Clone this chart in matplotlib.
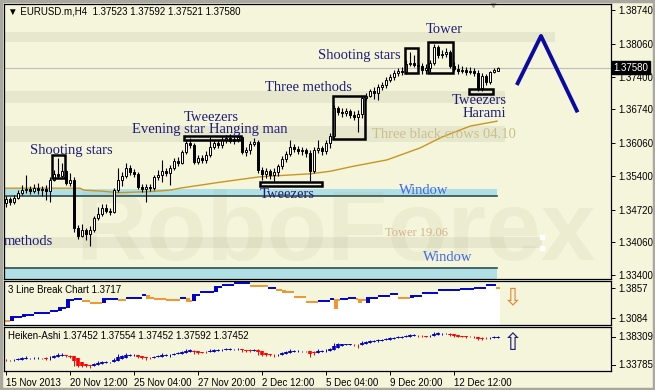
"""EURUSD.m H4 with candlestick pattern notes, plus 3 Line Break and Heiken-Ashi panels."""
import matplotlib
matplotlib.use("Agg")
import matplotlib.pyplot as plt
from matplotlib.patches import Rectangle
from matplotlib.transforms import blended_transform_factory

# H4 candles (15 Nov - 13 Dec 2013)
opens = [
    1.3485, 1.3493, 1.3487, 1.3495, 1.3505, 1.3511, 1.3513, 1.3509, 1.3515, 1.3511,
    1.3513, 1.3509, 1.3532, 1.3544, 1.3540, 1.3550, 1.3525, 1.3532, 1.3435, 1.3419,
    1.3431, 1.3423, 1.3431, 1.3455, 1.3463, 1.3475, 1.3469, 1.3467, 1.3511, 1.3532,
    1.3540, 1.3556, 1.3548, 1.3544, 1.3517, 1.3513, 1.3517, 1.3515, 1.3538, 1.3542,
    1.3550, 1.3546, 1.3556, 1.3570, 1.3566, 1.3588, 1.3606, 1.3602, 1.3568, 1.3576,
    1.3572, 1.3582, 1.3598, 1.3606, 1.3602, 1.3612, 1.3616, 1.3610, 1.3614, 1.3618,
    1.3588, 1.3592, 1.3604, 1.3608, 1.3552, 1.3544, 1.3550, 1.3542, 1.3548, 1.3560,
    1.3574, 1.3584, 1.3598, 1.3594, 1.3590, 1.3592, 1.3586, 1.3550, 1.3592, 1.3596,
    1.3590, 1.3606, 1.3620, 1.3677, 1.3668, 1.3666, 1.3671, 1.3662, 1.3658, 1.3664,
    1.3697, 1.3701, 1.3711, 1.3707, 1.3719, 1.3723, 1.3733, 1.3739, 1.3747, 1.3751,
    1.3749, 1.3765, 1.3767, 1.3763, 1.3761, 1.3753, 1.3757, 1.3767, 1.3800, 1.3783,
    1.3785, 1.3789, 1.3761, 1.3755, 1.3751, 1.3753, 1.3749, 1.3751, 1.3747, 1.3717,
    1.3741, 1.3729, 1.3749, 1.3752,
]
highs = [
    1.3499, 1.3497, 1.3501, 1.3511, 1.3521, 1.3542, 1.3519, 1.3523, 1.3525, 1.3519,
    1.3521, 1.3538, 1.3552, 1.3576, 1.3566, 1.3552, 1.3546, 1.3538, 1.3441, 1.3443,
    1.3435, 1.3439, 1.3459, 1.3477, 1.3483, 1.3483, 1.3475, 1.3515, 1.3556, 1.3548,
    1.3566, 1.3562, 1.3554, 1.3548, 1.3523, 1.3523, 1.3523, 1.3542, 1.3552, 1.3572,
    1.3556, 1.3562, 1.3576, 1.3578, 1.3592, 1.3612, 1.3616, 1.3606, 1.3582, 1.3582,
    1.3590, 1.3618, 1.3612, 1.3612, 1.3618, 1.3622, 1.3624, 1.3620, 1.3624, 1.3620,
    1.3598, 1.3610, 1.3616, 1.3612, 1.3558, 1.3556, 1.3554, 1.3556, 1.3564, 1.3580,
    1.3590, 1.3612, 1.3604, 1.3600, 1.3598, 1.3596, 1.3592, 1.3598, 1.3612, 1.3600,
    1.3612, 1.3626, 1.3683, 1.3681, 1.3677, 1.3677, 1.3675, 1.3671, 1.3673, 1.3701,
    1.3707, 1.3715, 1.3719, 1.3725, 1.3729, 1.3739, 1.3745, 1.3753, 1.3757, 1.3759,
    1.3773, 1.3789, 1.3783, 1.3769, 1.3767, 1.3765, 1.3773, 1.3806, 1.3804, 1.3793,
    1.3798, 1.3793, 1.3769, 1.3765, 1.3761, 1.3759, 1.3759, 1.3757, 1.3753, 1.3747,
    1.3745, 1.3751, 1.3757, 1.3759,
]
lows = [
    1.3477, 1.3481, 1.3483, 1.3493, 1.3501, 1.3505, 1.3503, 1.3505, 1.3503, 1.3499,
    1.3491, 1.3487, 1.3530, 1.3536, 1.3538, 1.3521, 1.3519, 1.3427, 1.3413, 1.3417,
    1.3411, 1.3399, 1.3427, 1.3451, 1.3459, 1.3465, 1.3461, 1.3465, 1.3507, 1.3519,
    1.3536, 1.3542, 1.3538, 1.3513, 1.3507, 1.3487, 1.3509, 1.3511, 1.3532, 1.3527,
    1.3540, 1.3521, 1.3552, 1.3560, 1.3564, 1.3584, 1.3596, 1.3564, 1.3564, 1.3566,
    1.3566, 1.3578, 1.3594, 1.3596, 1.3596, 1.3606, 1.3606, 1.3604, 1.3608, 1.3584,
    1.3580, 1.3584, 1.3600, 1.3546, 1.3532, 1.3536, 1.3534, 1.3530, 1.3540, 1.3554,
    1.3568, 1.3580, 1.3588, 1.3584, 1.3582, 1.3578, 1.3530, 1.3546, 1.3586, 1.3582,
    1.3584, 1.3596, 1.3614, 1.3662, 1.3658, 1.3660, 1.3656, 1.3652, 1.3628, 1.3656,
    1.3693, 1.3699, 1.3695, 1.3693, 1.3713, 1.3717, 1.3729, 1.3733, 1.3741, 1.3743,
    1.3745, 1.3761, 1.3759, 1.3753, 1.3745, 1.3745, 1.3749, 1.3763, 1.3777, 1.3777,
    1.3779, 1.3757, 1.3751, 1.3745, 1.3747, 1.3743, 1.3745, 1.3741, 1.3711, 1.3711,
    1.3723, 1.3725, 1.3747, 1.3752,
]
closes = [
    1.3493, 1.3487, 1.3495, 1.3505, 1.3511, 1.3513, 1.3509, 1.3515, 1.3511, 1.3513,
    1.3509, 1.3532, 1.3544, 1.3540, 1.3550, 1.3525, 1.3532, 1.3435, 1.3419, 1.3431,
    1.3423, 1.3431, 1.3455, 1.3463, 1.3475, 1.3469, 1.3467, 1.3511, 1.3532, 1.3540,
    1.3556, 1.3548, 1.3544, 1.3517, 1.3513, 1.3517, 1.3515, 1.3538, 1.3542, 1.3550,
    1.3546, 1.3556, 1.3570, 1.3566, 1.3588, 1.3606, 1.3602, 1.3568, 1.3576, 1.3572,
    1.3582, 1.3598, 1.3606, 1.3602, 1.3612, 1.3616, 1.3610, 1.3614, 1.3618, 1.3588,
    1.3592, 1.3604, 1.3608, 1.3552, 1.3544, 1.3550, 1.3542, 1.3548, 1.3560, 1.3574,
    1.3584, 1.3598, 1.3594, 1.3590, 1.3592, 1.3586, 1.3550, 1.3592, 1.3596, 1.3590,
    1.3606, 1.3620, 1.3677, 1.3668, 1.3666, 1.3671, 1.3662, 1.3658, 1.3664, 1.3697,
    1.3701, 1.3711, 1.3707, 1.3719, 1.3723, 1.3733, 1.3739, 1.3747, 1.3751, 1.3749,
    1.3765, 1.3767, 1.3763, 1.3761, 1.3753, 1.3757, 1.3767, 1.3800, 1.3783, 1.3785,
    1.3789, 1.3761, 1.3755, 1.3751, 1.3753, 1.3749, 1.3751, 1.3747, 1.3717, 1.3741,
    1.3729, 1.3749, 1.3753, 1.3758,
]
last_price = 1.37580

# moving average (bar, value)
ma_bars = [-0.5, 18.5, 19.5, 24, 28, 36, 41, 43.5, 53.5, 63.5, 76, 81, 86.75, 95.25, 103.5, 109, 116, 122.75]
ma_vals = [1.3515, 1.3515, 1.3511, 1.3509, 1.3506, 1.3508, 1.3511, 1.3515, 1.3527, 1.3538,
           1.3544, 1.3549, 1.3559, 1.3572, 1.3596, 1.3618, 1.3640, 1.3650]

# forecast zigzag
forecast_bars = [127.7, 133.75, 142.9]
forecast_vals = [1.37229, 1.38217, 1.36679]

# pattern boxes: bar from, bar to, low, high
box_x0 = [11.5, 44.5, 63.5, 81.75, 99.75, 105.5, 115.75]
box_x1 = [14.75, 58.75, 79.0, 89.75, 103.0, 111.75, 121.75]
box_lo = [1.3536, 1.3612, 1.3519, 1.3614, 1.3747, 1.3747, 1.3705]
box_hi = [1.3582, 1.3620, 1.3527, 1.3701, 1.3797, 1.3810, 1.3715]

# grey zones: low, high, bar where the zone ends
zone_lo = [1.38096, 1.36867, 1.36081, 1.33945]
zone_hi = [1.38297, 1.37108, 1.36403, 1.34167]
zone_end = [137.2, 124.7, 124.7, 134.0]
window_lo = [1.34993, 1.3300]
window_hi = [1.35128, 1.33542]
window_edge = [1.34993, 1.33542]

# pattern notes: text, bar, baseline price
notes = [
    ("Shooting stars", 6, 1.3584), ("Evening star", 31.5, 1.3626), ("Tweezers", 44.5, 1.3650),
    ("Hanging man", 50.75, 1.3626), ("Three methods", 64.75, 1.3711), ("Shooting stars", 78, 1.3775),
    ("Tower", 105, 1.3828), ("Tweezers", 111.5, 1.3685), ("Harami", 114.25, 1.3659),
    ("Tweezers", 63.5, 1.3495), ("methods", -0.5, 1.3400),
]

price_ticks = [1.33400, 1.34060, 1.34720, 1.35400, 1.36060, 1.36740, 1.37400, 1.38060, 1.38740]

# 3 Line Break: segment start bar, level, block edge, colour
lb_start = [-0.5, 1, 4, 7, 11, 13, 15, 17, 19, 21, 24, 28, 30, 34, 35, 37, 40, 43.5, 45, 46.5,
            48.5, 52, 54, 57, 61, 65.5, 67.5, 69, 72, 75, 78, 81, 82, 83.5, 85.5, 87.5, 88, 90,
            93, 96, 98, 101, 104, 108, 113.5, 117, 120, 122.5]
lb_level = [1.3007, 1.3110, 1.3161, 1.3213, 1.3264, 1.3342, 1.3548, 1.3574, 1.3522, 1.3470,
            1.3574, 1.3548, 1.3599, 1.3677, 1.3599, 1.3574, 1.3548, 1.3599, 1.3522, 1.3677,
            1.3754, 1.3883, 1.3934, 1.3986, 1.3909, 1.3857, 1.3805, 1.3754, 1.3625, 1.3496,
            1.3522, 1.3574, 1.3548, 1.3574, 1.3599, 1.3574, 1.3548, 1.3599, 1.3651, 1.3702,
            1.3599, 1.3651, 1.3728, 1.3805, 1.3831, 1.3857, 1.3934, 1.3857]
lb_edge = [1.3007, 1.3007, 1.3110, 1.3213, 1.3264, 1.3264, 1.3342, 1.3574, 1.3522, 1.3470,
           1.3470, 1.3548, 1.3599, 1.3677, 1.3677, 1.3574, 1.3548, 1.3599, 1.3599, 1.3522,
           1.3754, 1.3754, 1.3934, 1.3986, 1.3909, 1.3857, 1.3805, 1.3805, 1.3625, 1.3496,
           1.3522, 1.3574, 1.3316, 1.3574, 1.3599, 1.3574, 1.3470, 1.3470, 1.3651, 1.3702,
           1.3599, 1.3599, 1.3728, 1.3805, 1.3831, 1.3857, 1.3934, 1.3857]
lb_up = [0, 1, 1, 1, 1, 1, 1, 1, 0, 0, 1, 0, 1, 1, 0, 0, 0, 1, 0, 1,
         1, 1, 1, 1, 0, 1, 0, 0, 0, 0, 1, 1, 0, 1, 1, 0, 0, 1, 1, 1,
         0, 1, 1, 1, 1, 1, 1, 0]
lb_end = 123.5

date_ticks = [0, 16, 32, 48, 64, 80, 96, 112]
date_labels = ["15 Nov 2013", "20 Nov 12:00", "25 Nov 04:00", "27 Nov 20:00",
               "2 Dec 12:00", "5 Dec 04:00", "9 Dec 20:00", "12 Dec 12:00"]

BG = "#F5F5DC"
NAVY = "#1E1E78"
SANS = ["Liberation Sans", "DejaVu Sans"]
SERIF = "Liberation Serif"
W, H = 655, 390


def px_box(left, top, right, bottom):
    return [left / W, 1 - bottom / H, (right - left) / W, (bottom - top) / H]


fig = plt.figure(figsize=(6.55, 3.9), dpi=100)
fig.patch.set_facecolor(BG)
fig.add_artist(Rectangle((0.001, 0.002), 0.997, 0.995, transform=fig.transFigure,
                         fill=False, edgecolor="#A8A8A0", linewidth=2.5))

ax = fig.add_axes(px_box(4, 4, 611, 279))
ax_lb = fig.add_axes(px_box(4, 281, 611, 325))
ax_ha = fig.add_axes(px_box(4, 327, 611, 371))

for a in (ax, ax_lb, ax_ha):
    a.set_facecolor(BG)
    a.set_xlim(-0.5, 151.25)
    for s in a.spines.values():
        s.set_color("black")
        s.set_linewidth(0.9)
    a.yaxis.tick_right()
    a.tick_params(axis="y", length=3, width=0.7, labelsize=7, pad=2, labelfontfamily="Liberation Sans")

bars = list(range(len(closes)))

# ---- main chart
ax.set_ylim(1.3332, 1.38861)
ax.set_yticks(price_ticks)
ax.set_yticklabels([f"{t:.5f}" for t in price_ticks])
ax.set_xticks([])

for lo, hi, end in zip(zone_lo, zone_hi, zone_end):
    ax.add_patch(Rectangle((-0.5, lo), end + 0.5, hi - lo, color="#E7E7CE", lw=0, zorder=0.5))
ax.plot([zone_end[3], zone_end[3]], [zone_lo[3], zone_hi[3]], "s", color="white", ms=2.5, zorder=0.55)
for lo, hi, edge in zip(window_lo, window_hi, window_edge):
    ax.add_patch(Rectangle((-0.5, lo), 123.25, hi - lo, color="#B0E0E6", lw=0, zorder=0.6))
    ax.plot([-0.5, 122.75], [edge, edge], color="#2F4F4F", lw=1.2, zorder=0.7)

# faint watermark
ax.text(0.117, 0.069, "RoboForex", transform=ax.transAxes, fontsize=71, fontweight="bold",
        family="Liberation Sans", color="#7A7A40", alpha=0.07, va="baseline", zorder=0.8)

ax.axhline(last_price, color="#BEBEBE", lw=0.8, zorder=0.9)
ax.plot(ma_bars, ma_vals, color="#C8961E", lw=1.0, zorder=1)

ax.vlines(bars, lows, highs, color="black", lw=0.8, zorder=2)
body_bottom = [min(o, c) for o, c in zip(opens, closes)]
body_height = [max(abs(c - o), 0.00003) for o, c in zip(opens, closes)]
body_color = ["white" if c >= o else "black" for o, c in zip(opens, closes)]
ax.bar(bars, body_height, bottom=body_bottom, width=0.6, color=body_color,
       edgecolor="black", linewidth=0.7, zorder=3)

for x0, x1, lo, hi in zip(box_x0, box_x1, box_lo, box_hi):
    ax.add_patch(Rectangle((x0, lo), x1 - x0, hi - lo, fill=False, edgecolor="black", lw=1.8, zorder=4))

for text, x, y in notes:
    ax.text(x, y, text, color=NAVY, fontsize=10.5, family=SERIF, va="baseline", zorder=5)
ax.text(98.25, 1.3503, "Window", color="#4169E1", fontsize=10.5, family=SERIF, va="baseline", zorder=5)
ax.text(104.25, 1.3368, "Window", color="#4169E1", fontsize=10.5, family=SERIF, va="baseline", zorder=5)
ax.text(91.5, 1.3616, "Three black crows 04.10", color="#C8C08A", fontsize=10.5, family=SERIF,
        va="baseline", zorder=5)
ax.text(94.75, 1.3419, "Tower 19.06", color="#D2B48C", fontsize=9, family=SERIF, va="baseline", zorder=5)

ax.plot(forecast_bars, forecast_vals, color="#0A0AA0", lw=2.8, solid_capstyle="butt", zorder=5)

ax.text(0.007, 0.972, "\u25bc EURUSD.m,H4  1.37523 1.37592 1.37521 1.37580", transform=ax.transAxes,
        fontsize=7, family=SANS, va="center", zorder=6)
ax.plot([121.75], [1.0], marker="v", color="#A0A0A0", markersize=5,
        transform=blended_transform_factory(ax.transData, ax.transAxes), clip_on=False)

ax.text(1.004, last_price, "1.37580", transform=blended_transform_factory(ax.transAxes, ax.transData),
        color="white", fontsize=7, family="Liberation Sans", va="center", clip_on=False, zorder=10,
        bbox=dict(facecolor="black", edgecolor="black", pad=1.0))

# ---- 3 Line Break
ax_lb.set_ylim(1.2904, 1.4037)
ax_lb.set_yticks([1.3084, 1.3857])
ax_lb.set_yticklabels(["1.3084", "1.3857"])
ax_lb.set_xticks([])
edges = lb_start + [lb_end]
ax_lb.fill_between(edges, lb_level + [lb_level[-1]], 1.2904, step="post", color="white", lw=0)
for i, (x, lvl, edge, up) in enumerate(zip(lb_start, lb_level, lb_edge, lb_up)):
    col = "#0000CC" if up else "#F0962D"
    ax_lb.hlines(lvl, x, edges[i + 1], color=col, lw=1.4)
    if edge != lvl:
        ax_lb.add_patch(Rectangle((x, min(lvl, edge)), 1.1, abs(lvl - edge), color=col, lw=0))
ax_lb.text(0.007, 0.8, "3 Line Break Chart 1.3717", transform=ax_lb.transAxes, fontsize=7,
           family=SANS, va="center")
ax_lb.text(126.75, 1.3625, "\u21e9", color="#E0883A", fontsize=17, ha="center", va="center")

# ---- Heiken-Ashi (built from the candles above)
ha_close = [(o + h + l + c) / 4 for o, h, l, c in zip(opens, highs, lows, closes)]
ha_open = [(opens[0] + closes[0]) / 2]
for i in range(1, len(closes)):
    ha_open.append((ha_open[i - 1] + ha_close[i - 1]) / 2)
ha_high = [max(h, o, c) for h, o, c in zip(highs, ha_open, ha_close)]
ha_low = [min(l, o, c) for l, o, c in zip(lows, ha_open, ha_close)]
ha_color = ["#0000C8" if c >= o else "#FF0000" for o, c in zip(ha_open, ha_close)]

ax_ha.set_ylim(1.3369, 1.3862)
ax_ha.vlines(bars, ha_low, ha_high, color=ha_color, lw=0.7)
ax_ha.vlines(bars, ha_open, ha_close, color=ha_color, lw=2.6)
ax_ha.set_yticks([])
ax_ha.text(0.007, 0.8, "Heiken-Ashi 1.37452 1.37554 1.37452 1.37592 1.37452", transform=ax_ha.transAxes,
           fontsize=7, family=SANS, va="center")
for frac, label in ((0.773, "1.38309"), (0.136, "1.33785")):
    ax_ha.text(1.012, frac, label, transform=ax_ha.transAxes, fontsize=7, family="Liberation Sans",
               va="center", clip_on=False)
    ax_ha.plot([1.0, 1.006], [frac, frac], color="black", lw=0.7, transform=ax_ha.transAxes, clip_on=False)
ax_ha.text(126.75, 1.3682, "\u21e7", color="#1C1C7C", fontsize=17, ha="center", va="center")

ax_ha.set_xticks(date_ticks)
ax_ha.set_xticklabels(date_labels, fontsize=7, family="Liberation Sans")
for lbl in ax_ha.get_xticklabels():
    lbl.set_horizontalalignment("left")
ax_ha.tick_params(axis="x", length=3, width=0.7, pad=2)

fig.savefig("out.png", dpi=100, facecolor=BG)
